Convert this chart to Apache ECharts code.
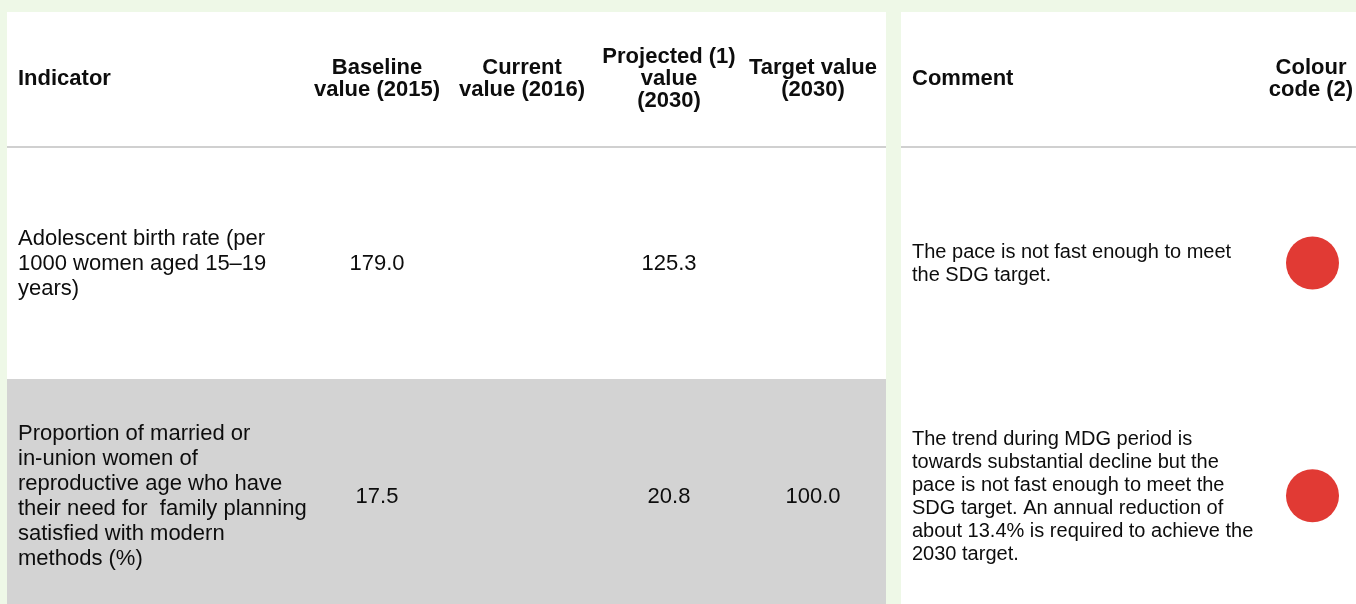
<!DOCTYPE html>
<html>
<head>
<meta charset="utf-8">
<title>SDG indicator table</title>
<script src="https://cdn.jsdelivr.net/npm/echarts@6/dist/echarts.min.js"></script>
<style>
  html, body { margin: 0; padding: 0; background: #eef8e7; }
  #chart { width: 1356px; height: 604px; }
</style>
</head>
<body>
<div id="chart"></div>
<script>
// table content
const headers = ['Indicator', 'Baseline\nvalue (2015)', 'Current\nvalue (2016)', 'Projected (1)\nvalue\n(2030)', 'Target value\n(2030)', 'Comment', 'Colour\ncode (2)']
const rows = ['Adolescent birth rate', 'Family planning satisfied']
const indicators = [
  'Adolescent birth rate (per\n1000 women aged 15–19\nyears)',
  'Proportion of married or\nin-union women of\nreproductive age who have\ntheir need for  family planning\nsatisfied with modern\nmethods (%)'
]
const baseline = ['179.0', '17.5']
const current = ['', '']
const projected = ['125.3', '20.8']
const target = ['', '100.0']
const comments = [
  'The pace is not fast enough to meet\nthe SDG target.',
  'The trend during MDG period is\ntowards substantial decline but the\npace is not fast enough to meet the\nSDG target. An annual reduction of\nabout 13.4% is required to achieve the\n2030 target.'
]
const colourCodes = ['#e13a34', '#e13a34']

// layout (pixels on a 0..1356 x scale)
const colX = [18, 377, 522, 669, 813, 912, 1311]
const colAlign = ['left', 'center', 'center', 'center', 'center', 'left', 'center']
const FONT = '"Liberation Sans", Arial, sans-serif'

const chart = echarts.init(document.getElementById('chart'))

const columns = [indicators, baseline, current, projected, target, comments]
const cellData = []
columns.forEach((col, c) => {
  col.forEach((txt, r) => { cellData.push([colX[c], r, c]) })
})

function cellStyle(c) {
  if (c === 5) return { font: '20px ' + FONT, lineHeight: 23 }
  return { font: '22px ' + FONT, lineHeight: 25 }
}

chart.setOption({
  backgroundColor: '#eef8e7',
  animation: false,
  graphic: [
    { type: 'rect', z: -20, shape: { x: 7, y: 12, width: 879, height: 600 }, style: { fill: '#ffffff' } },
    { type: 'rect', z: -20, shape: { x: 901, y: 12, width: 460, height: 600 }, style: { fill: '#ffffff' } },
    { type: 'rect', z: -10, shape: { x: 7, y: 146, width: 879, height: 2 }, style: { fill: '#d0d0d0' } },
    { type: 'rect', z: -10, shape: { x: 901, y: 146, width: 460, height: 2 }, style: { fill: '#d0d0d0' } }
  ],
  grid: [
    { left: 0, right: 0, top: 12, height: 134, outerBoundsMode: 'none' },
    { left: 0, right: 0, top: 146.7, height: 465.3, outerBoundsMode: 'none' }
  ],
  xAxis: [
    { gridIndex: 0, type: 'value', min: 0, max: 1356, show: false },
    { gridIndex: 1, type: 'value', min: 0, max: 1356, show: false }
  ],
  yAxis: [
    { gridIndex: 0, type: 'category', data: ['header'], show: false },
    { gridIndex: 1, type: 'category', data: rows, inverse: true, show: false }
  ],
  series: [
    {
      // shaded row backgrounds
      type: 'custom',
      xAxisIndex: 1,
      yAxisIndex: 1,
      z: 1,
      data: rows.map((r, i) => [0, i]),
      renderItem(params, api) {
        const i = api.value(1)
        if (i % 2 === 0) return null
        const p = api.coord([0, i])
        const h = api.size([0, 1])[1]
        return {
          type: 'rect',
          shape: { x: 7, y: Math.round(p[1] - h / 2), width: 879, height: 300 },
          style: { fill: '#d3d3d3' }
        }
      }
    },
    {
      // header labels
      type: 'custom',
      xAxisIndex: 0,
      yAxisIndex: 0,
      z: 5,
      data: headers.map((h, c) => [colX[c], 0, c]),
      renderItem(params, api) {
        const c = api.value(2)
        const p = api.coord([api.value(0), 0])
        return {
          type: 'text',
          x: p[0],
          y: p[1],
          style: {
            text: headers[c],
            font: 'bold 22px ' + FONT,
            lineHeight: 22,
            fill: '#0d0d0d',
            align: colAlign[c],
            verticalAlign: 'middle'
          }
        }
      }
    },
    {
      // body cells
      type: 'custom',
      xAxisIndex: 1,
      yAxisIndex: 1,
      z: 5,
      data: cellData,
      renderItem(params, api) {
        const x = api.value(0)
        const r = api.value(1)
        const c = api.value(2)
        const p = api.coord([x, r])
        const st = cellStyle(c)
        return {
          type: 'text',
          x: p[0],
          y: p[1] + 1,
          style: {
            text: columns[c][r],
            font: st.font,
            lineHeight: st.lineHeight,
            fill: '#0d0d0d',
            align: colAlign[c],
            verticalAlign: 'middle'
          }
        }
      }
    },
    {
      // colour code dots
      type: 'scatter',
      xAxisIndex: 1,
      yAxisIndex: 1,
      z: 5,
      symbol: 'circle',
      symbolSize: 53,
      data: colourCodes.map((col, r) => ({ value: [colX[6] + 1.5, r], itemStyle: { color: col, opacity: 1 } })),
      emphasis: { disabled: true }
    }
  ]
})
</script>
</body>
</html>
